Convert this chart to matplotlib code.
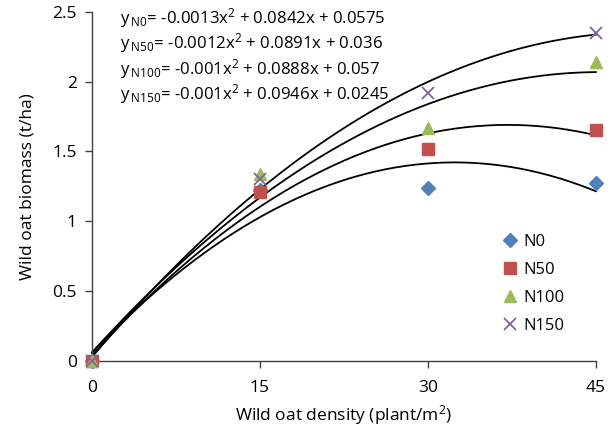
import matplotlib
matplotlib.use("Agg")
import matplotlib.pyplot as plt
import numpy as np

plt.rcParams['font.family'] = ['Open Sans', 'DejaVu Sans']
plt.rcParams['mathtext.fontset'] = 'custom'
plt.rcParams['mathtext.rm'] = 'Open Sans'
plt.rcParams['mathtext.it'] = 'Open Sans:italic'

density = [0, 15, 30, 45]
series = ['N0', 'N50', 'N100', 'N150']
n0 = [0, 1.22, 1.24, 1.27]
n50 = [0, 1.21, 1.52, 1.65]
n100 = [0, 1.34, 1.67, 2.14]
n150 = [0, 1.30, 1.92, 2.35]
# quadratic trend coefficients (a, b, c) for y = a x^2 + b x + c,
# as drawn (the printed equations round the x^2 term)
coef_n0 = (-0.0013, 0.0842, 0.0575)
coef_n50 = (-0.0012, 0.0891, 0.036)
coef_n100 = (-0.00098, 0.0888, 0.057)
coef_n150 = (-0.00096, 0.0946, 0.0245)
eq_labels = ['y$\\,_{\\mathregular{N0}}$= -0.0013x$^{\\mathregular{2}}$ + 0.0842x + 0.0575',
             'y$\\,_{\\mathregular{N50}}$= -0.0012x$^{\\mathregular{2}}$ + 0.0891x + 0.036',
             'y$\\,_{\\mathregular{N100}}$= -0.001x$^{\\mathregular{2}}$ + 0.0888x + 0.057',
             'y$\\,_{\\mathregular{N150}}$= -0.001x$^{\\mathregular{2}}$ + 0.0946x + 0.0245']
xticks = [0, 15, 30, 45]
yticks = [0, 0.5, 1, 1.5, 2, 2.5]
ytick_labels = ['0', '0.5', '1', '1.5', '2', '2.5']

fig = plt.figure(figsize=(6.13, 4.33), dpi=100)
ax = fig.add_axes([0.150, 0.1674, 0.822, 0.805])

colors = ['#4F81BD', '#C0504D', '#9BBB59', '#8064A2']
markers = ['D', 's', '^', 'x']
msizes = [7, 8.5, 9, 9]
vals = [n0, n50, n100, n150]
coefs = [coef_n0, coef_n50, coef_n100, coef_n150]

xs = np.linspace(0, 45, 200)
for c in coefs:
    ax.plot(xs, np.polyval(c, xs), color='black', lw=1.3, zorder=2, clip_on=False)

for name, v, col, m, ms in zip(series, vals, colors, markers, msizes):
    kw = dict(color=col, mew=1.3) if m == 'x' else dict(color=col, mec=col)
    ax.plot(density, v, linestyle='none', marker=m, markersize=ms, label=name,
            clip_on=False, zorder=3, **kw)

ax.set_xlim(0, 45)
ax.set_ylim(0, 2.5)
ax.set_xticks(xticks)
ax.set_yticks(yticks)
ax.set_yticklabels(ytick_labels)
for s in ['top', 'right']:
    ax.spines[s].set_visible(False)
for s in ['left', 'bottom']:
    ax.spines[s].set_color('#404040')
    ax.spines[s].set_linewidth(1.0)
ax.tick_params(axis='both', direction='out', length=5, width=1, color='#404040',
               labelsize=12.5, pad=6)
ax.tick_params(axis='x', pad=9)

ax.set_xlabel('Wild oat density (plant/m$^{\\mathregular{2}}$)', fontsize=12.5, labelpad=5)
ax.set_ylabel('Wild oat biomass (t/ha)', fontsize=12.5, labelpad=12)

for i, t in enumerate(eq_labels):
    fig.text(0.195, 0.958 - i * 0.0585, t, fontsize=12.1, va='center', ha='left')

leg = ax.legend(loc='upper left', bbox_to_anchor=(0.81, 0.363), frameon=False,
                fontsize=12, handletextpad=0.2, labelspacing=0.72, handlelength=1.2,
                borderaxespad=0, borderpad=0)

fig.savefig('out.png', dpi=100)
